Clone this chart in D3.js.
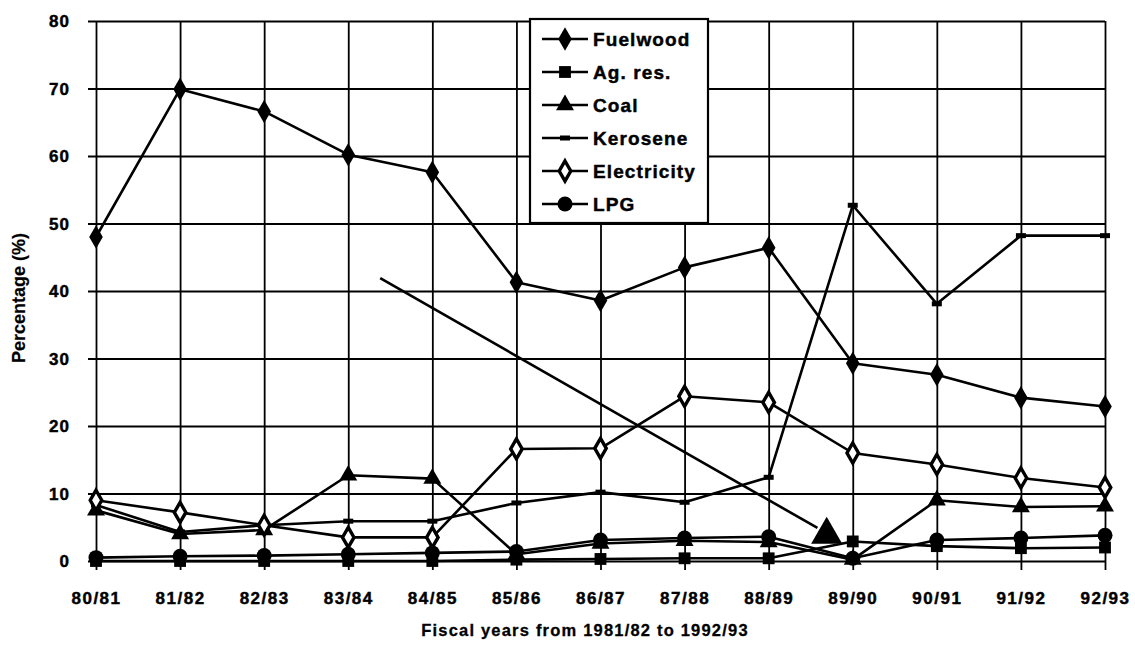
<!DOCTYPE html>
<html>
<head>
<meta charset="utf-8">
<script src="https://cdn.jsdelivr.net/npm/d3@7"></script>
<style>
  html, body { margin: 0; padding: 0; background: #fff; }
  svg { display: block; }
  text { font-family: "Liberation Sans", Arial, sans-serif; fill: #000; }
</style>
</head>
<body>
<svg id="chart" width="1135" height="645"></svg>
<script>
// Fiscal years on the x axis
const categories = ["80/81","81/82","82/83","83/84","84/85","85/86","86/87","87/88","88/89","89/90","90/91","91/92","92/93"];

// Share of each fuel (%)
const fuelwood    = [48.0, 69.9, 66.6, 60.2, 57.6, 41.3, 38.6, 43.5, 46.4, 29.3, 27.6, 24.2, 22.9];
const agRes       = [0.0, 0.0, 0.0, 0.0, 0.0, 0.2, 0.3, 0.4, 0.4, 2.9, 2.2, 1.9, 2.0];
const coal        = [7.5, 4.0, 4.6, 12.7, 12.2, 1.0, 2.6, 3.0, 2.8, 0.2, 9.0, 8.0, 8.1];
const kerosene    = [8.3, 4.3, 5.3, 5.9, 5.9, 8.6, 10.2, 8.7, 12.4, 52.7, 38.1, 48.2, 48.2];
const electricity = [9.0, 7.2, 5.3, 3.5, 3.5, 16.6, 16.7, 24.4, 23.5, 16.0, 14.3, 12.3, 10.9];
const lpg         = [0.5, 0.7, 0.8, 1.0, 1.2, 1.4, 3.1, 3.4, 3.6, 0.4, 3.1, 3.4, 3.8];

const seriesNames = ["Fuelwood", "Ag. res.", "Coal", "Kerosene", "Electricity", "LPG"];

// Y axis ticks
const yTicks = [0, 10, 20, 30, 40, 50, 60, 70, 80];

// Free-hand pointer line (category index, value) ending in a large triangle
const pointerLine = [[3.38, 41.9], [8.58, 4.9]];
const pointerHead = [8.69, 3.9];

(function () {
  const svg = d3.select("#chart");
  const plotLeft = 96, plotRight = 1105, plotTop = 21, plotBottom = 561;
  const ink = "#000";

  const x = d3.scalePoint().domain(categories).range([plotLeft, plotRight]);
  const y = d3.scaleLinear().domain([0, 80]).range([plotBottom, plotTop]);
  const xi = d3.scaleLinear().domain([0, categories.length - 1]).range([plotLeft, plotRight]);

  // Heavy bold text helper
  const heavy = sel => sel.attr("font-weight", "bold").attr("stroke", ink).attr("stroke-width", 0.45);

  // Grid: horizontal lines with small ticks to the left, vertical lines with ticks below
  const yAxis = d3.axisLeft(y).tickValues(yTicks)
    .tickSize(-(plotRight - plotLeft)).tickSizeOuter(0).tickPadding(26).tickFormat(d3.format("d"));
  const gy = svg.append("g").attr("transform", `translate(${plotLeft},0)`).call(yAxis);
  gy.select(".domain").remove();
  gy.selectAll(".tick line").attr("x1", -8).attr("stroke", ink).attr("stroke-width", 1.8);
  gy.selectAll(".tick text")
    .attr("font-size", 17).attr("letter-spacing", 1).attr("dy", "0.35em").call(heavy);

  const xAxis = d3.axisBottom(x).tickSize(-(plotBottom - plotTop)).tickSizeOuter(0).tickPadding(31);
  const gx = svg.append("g").attr("transform", `translate(0,${plotBottom})`).call(xAxis);
  gx.select(".domain").remove();
  gx.selectAll(".tick line").attr("y1", 9).attr("stroke", ink).attr("stroke-width", 1.8);
  gx.selectAll(".tick text")
    .attr("font-size", 17).attr("letter-spacing", 1.5).call(heavy);

  // Axis titles
  svg.append("text")
    .attr("transform", "translate(25,298) rotate(-90)")
    .attr("text-anchor", "middle").attr("font-size", 18)
    .call(heavy).attr("stroke-width", 0.2)
    .text("Percentage (%)");
  svg.append("text")
    .attr("x", 585).attr("y", 636)
    .attr("text-anchor", "middle").attr("font-size", 16.5)
    .attr("letter-spacing", 1.2).call(heavy).attr("stroke-width", 0.3)
    .text("Fiscal years from 1981/82 to 1992/93");

  // Marker drawing helpers
  const sym = (type, size) => d3.symbol().type(type).size(size)();
  const markers = {
    "Fuelwood":    g => g.append("path").attr("d", sym(d3.symbolDiamond, 160)).attr("fill", ink),
    "Ag. res.":    g => g.append("path").attr("d", sym(d3.symbolSquare, 140)).attr("fill", ink),
    "Coal":        g => g.append("path").attr("d", sym(d3.symbolTriangle, 140)).attr("fill", ink),
    "Kerosene":    g => g.append("rect").attr("x", -5).attr("y", -2.5).attr("width", 10).attr("height", 5).attr("fill", ink),
    "Electricity": g => g.append("path").attr("d", sym(d3.symbolDiamond, 115)).attr("fill", "#fff").attr("stroke", ink).attr("stroke-width", 3.4),
    "LPG":         g => g.append("circle").attr("r", 7.5).attr("fill", ink)
  };

  const seriesData = [fuelwood, agRes, coal, kerosene, electricity, lpg];
  const line = d3.line().x((d, i) => x(categories[i])).y(d => y(d));

  const plot = svg.append("g");
  seriesData.forEach(vals => {
    plot.append("path").datum(vals)
      .attr("d", line).attr("fill", "none").attr("stroke", ink).attr("stroke-width", 2.6)
      .attr("stroke-linejoin", "round");
  });
  seriesData.forEach((vals, si) => {
    const name = seriesNames[si];
    vals.forEach((v, i) => {
      const g = plot.append("g").attr("transform", `translate(${x(categories[i])},${y(v)})`);
      markers[name](g);
    });
  });

  // Pointer line and its triangle head
  plot.append("path").datum(pointerLine)
    .attr("d", d3.line().x(d => xi(d[0])).y(d => y(d[1])))
    .attr("stroke", ink).attr("stroke-width", 2.6).attr("fill", "none");
  plot.append("path")
    .attr("transform", `translate(${xi(pointerHead[0])},${y(pointerHead[1])})`)
    .attr("d", sym(d3.symbolTriangle, 420)).attr("fill", ink);

  // Legend
  const lg = svg.append("g");
  lg.append("rect").attr("x", 530).attr("y", 19).attr("width", 178).attr("height", 204)
    .attr("fill", "#fff").attr("stroke", ink).attr("stroke-width", 2.2);
  seriesNames.forEach((name, i) => {
    const ly = 39 + i * 33;
    const row = lg.append("g").attr("transform", `translate(0,${ly})`);
    row.append("line").attr("x1", 542).attr("x2", 588).attr("y1", 0).attr("y2", 0)
      .attr("stroke", ink).attr("stroke-width", 2.4);
    markers[name](row.append("g").attr("transform", "translate(565,0)"));
    row.append("text").attr("x", 593).attr("y", 0).attr("dy", "0.36em")
      .attr("font-size", 19).attr("letter-spacing", 1.1).call(heavy)
      .text(name);
  });
})();
</script>
</body>
</html>
